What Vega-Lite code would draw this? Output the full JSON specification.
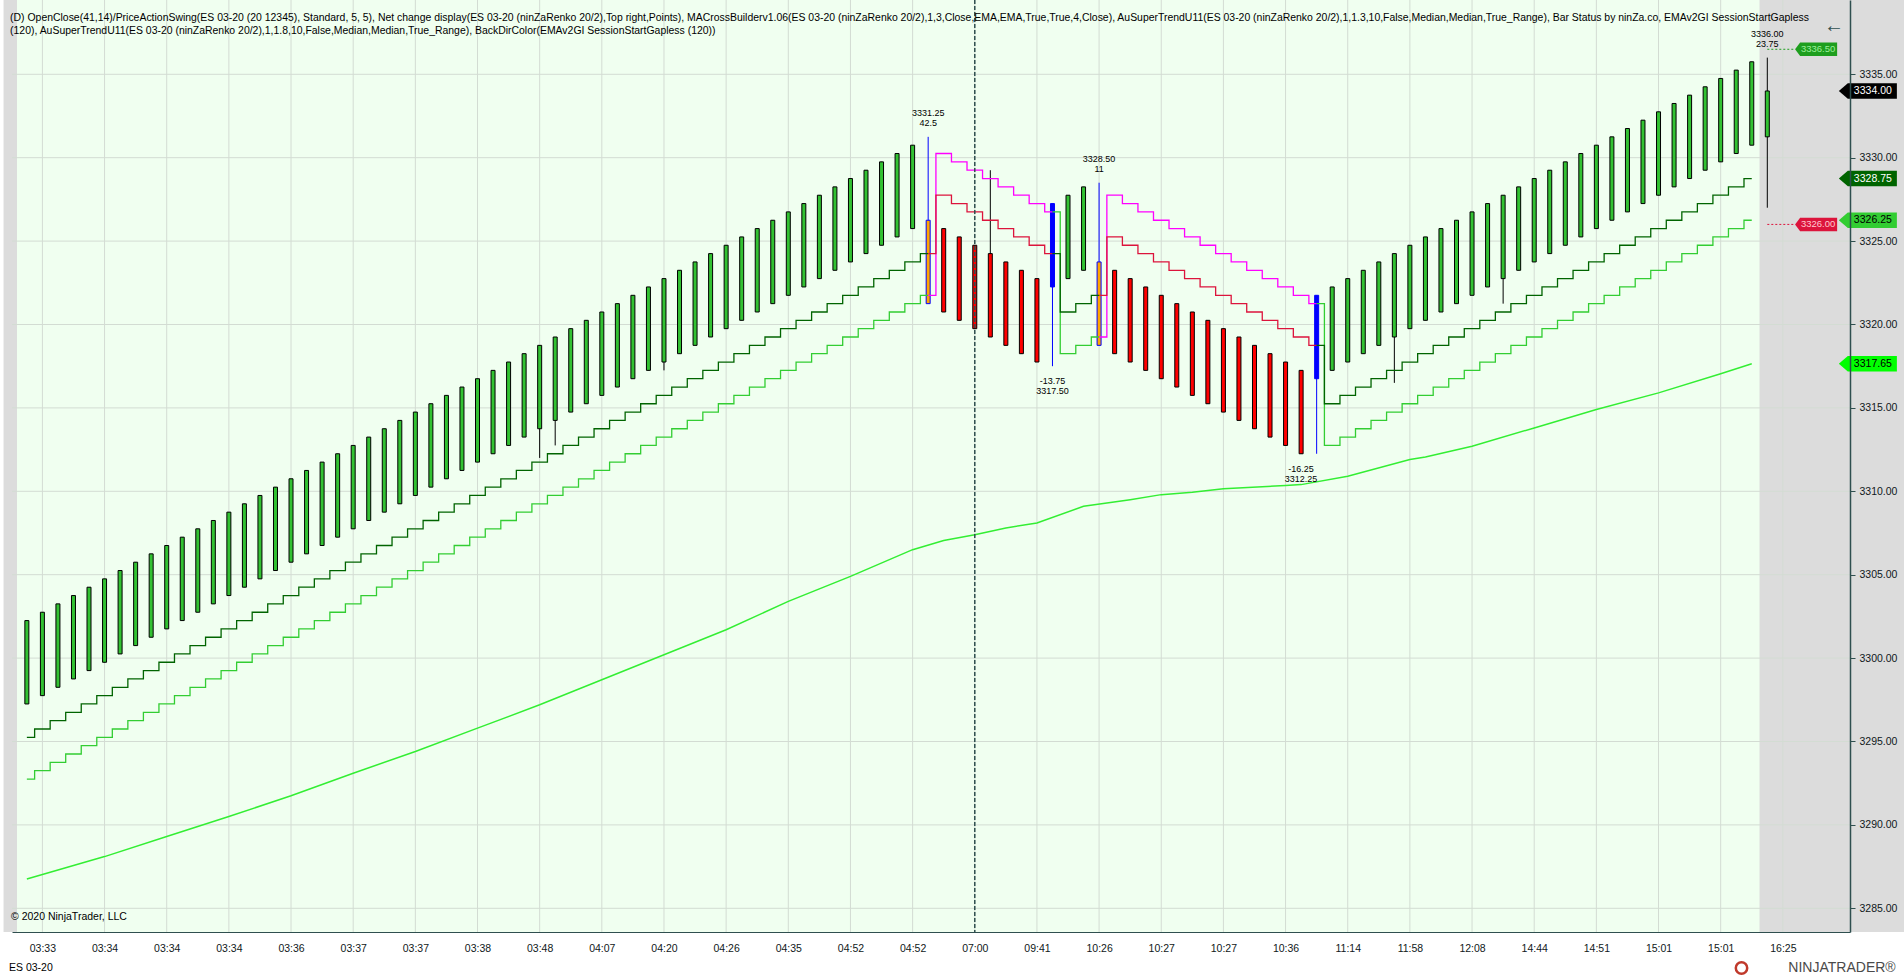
{
"$schema":"https://vega.github.io/schema/vega-lite/v6.json",
"width":1838,"height":932,
"autosize":{"type":"none"},
"padding":{"left":12,"top":0,"right":54,"bottom":46},
"background":"#FFFFFF",
"config":{"view":{"stroke":null},"font":"Liberation Sans"},
"resolve":{"scale":{"color":"independent","stroke":"independent"}},
"datasets":{
"bars":[
{"i":0,"o":3297.25,"c":3302.25,"h":3302.25,"l":3297.25,"s":"u","t1":3295.25,"t2":3292.75},
{"i":1,"o":3297.75,"c":3302.75,"h":3302.75,"l":3297.75,"s":"u","t1":3295.75,"t2":3293.25},
{"i":2,"o":3298.25,"c":3303.25,"h":3303.25,"l":3298.25,"s":"u","t1":3296.25,"t2":3293.75},
{"i":3,"o":3298.75,"c":3303.75,"h":3303.75,"l":3298.75,"s":"u","t1":3296.75,"t2":3294.25},
{"i":4,"o":3299.25,"c":3304.25,"h":3304.25,"l":3299.25,"s":"u","t1":3297.25,"t2":3294.75},
{"i":5,"o":3299.75,"c":3304.75,"h":3304.75,"l":3299.75,"s":"u","t1":3297.75,"t2":3295.25},
{"i":6,"o":3300.25,"c":3305.25,"h":3305.25,"l":3300.25,"s":"u","t1":3298.25,"t2":3295.75},
{"i":7,"o":3300.75,"c":3305.75,"h":3305.75,"l":3300.75,"s":"u","t1":3298.75,"t2":3296.25},
{"i":8,"o":3301.25,"c":3306.25,"h":3306.25,"l":3301.25,"s":"u","t1":3299.25,"t2":3296.75},
{"i":9,"o":3301.75,"c":3306.75,"h":3306.75,"l":3301.75,"s":"u","t1":3299.75,"t2":3297.25},
{"i":10,"o":3302.25,"c":3307.25,"h":3307.25,"l":3302.25,"s":"u","t1":3300.25,"t2":3297.75},
{"i":11,"o":3302.75,"c":3307.75,"h":3307.75,"l":3302.75,"s":"u","t1":3300.75,"t2":3298.25},
{"i":12,"o":3303.25,"c":3308.25,"h":3308.25,"l":3303.25,"s":"u","t1":3301.25,"t2":3298.75},
{"i":13,"o":3303.75,"c":3308.75,"h":3308.75,"l":3303.75,"s":"u","t1":3301.75,"t2":3299.25},
{"i":14,"o":3304.25,"c":3309.25,"h":3309.25,"l":3304.25,"s":"u","t1":3302.25,"t2":3299.75},
{"i":15,"o":3304.75,"c":3309.75,"h":3309.75,"l":3304.75,"s":"u","t1":3302.75,"t2":3300.25},
{"i":16,"o":3305.25,"c":3310.25,"h":3310.25,"l":3305.25,"s":"u","t1":3303.25,"t2":3300.75},
{"i":17,"o":3305.75,"c":3310.75,"h":3310.75,"l":3305.75,"s":"u","t1":3303.75,"t2":3301.25},
{"i":18,"o":3306.25,"c":3311.25,"h":3311.25,"l":3306.25,"s":"u","t1":3304.25,"t2":3301.75},
{"i":19,"o":3306.75,"c":3311.75,"h":3311.75,"l":3306.75,"s":"u","t1":3304.75,"t2":3302.25},
{"i":20,"o":3307.25,"c":3312.25,"h":3312.25,"l":3307.25,"s":"u","t1":3305.25,"t2":3302.75},
{"i":21,"o":3307.75,"c":3312.75,"h":3312.75,"l":3307.75,"s":"u","t1":3305.75,"t2":3303.25},
{"i":22,"o":3308.25,"c":3313.25,"h":3313.25,"l":3308.25,"s":"u","t1":3306.25,"t2":3303.75},
{"i":23,"o":3308.75,"c":3313.75,"h":3313.75,"l":3308.75,"s":"u","t1":3306.75,"t2":3304.25},
{"i":24,"o":3309.25,"c":3314.25,"h":3314.25,"l":3309.25,"s":"u","t1":3307.25,"t2":3304.75},
{"i":25,"o":3309.75,"c":3314.75,"h":3314.75,"l":3309.75,"s":"u","t1":3307.75,"t2":3305.25},
{"i":26,"o":3310.25,"c":3315.25,"h":3315.25,"l":3310.25,"s":"u","t1":3308.25,"t2":3305.75},
{"i":27,"o":3310.75,"c":3315.75,"h":3315.75,"l":3310.75,"s":"u","t1":3308.75,"t2":3306.25},
{"i":28,"o":3311.25,"c":3316.25,"h":3316.25,"l":3311.25,"s":"u","t1":3309.25,"t2":3306.75},
{"i":29,"o":3311.75,"c":3316.75,"h":3316.75,"l":3311.75,"s":"u","t1":3309.75,"t2":3307.25},
{"i":30,"o":3312.25,"c":3317.25,"h":3317.25,"l":3312.25,"s":"u","t1":3310.25,"t2":3307.75},
{"i":31,"o":3312.75,"c":3317.75,"h":3317.75,"l":3312.75,"s":"u","t1":3310.75,"t2":3308.25},
{"i":32,"o":3313.25,"c":3318.25,"h":3318.25,"l":3313.25,"s":"u","t1":3311.25,"t2":3308.75},
{"i":33,"o":3313.75,"c":3318.75,"h":3318.75,"l":3312.0,"s":"u","t1":3311.75,"t2":3309.25},
{"i":34,"o":3314.25,"c":3319.25,"h":3319.25,"l":3312.75,"s":"u","t1":3312.25,"t2":3309.75},
{"i":35,"o":3314.75,"c":3319.75,"h":3319.75,"l":3314.75,"s":"u","t1":3312.75,"t2":3310.25},
{"i":36,"o":3315.25,"c":3320.25,"h":3320.25,"l":3315.25,"s":"u","t1":3313.25,"t2":3310.75},
{"i":37,"o":3315.75,"c":3320.75,"h":3320.75,"l":3315.75,"s":"u","t1":3313.75,"t2":3311.25},
{"i":38,"o":3316.25,"c":3321.25,"h":3321.25,"l":3316.25,"s":"u","t1":3314.25,"t2":3311.75},
{"i":39,"o":3316.75,"c":3321.75,"h":3321.75,"l":3316.75,"s":"u","t1":3314.75,"t2":3312.25},
{"i":40,"o":3317.25,"c":3322.25,"h":3322.25,"l":3317.25,"s":"u","t1":3315.25,"t2":3312.75},
{"i":41,"o":3317.75,"c":3322.75,"h":3322.75,"l":3317.25,"s":"u","t1":3315.75,"t2":3313.25},
{"i":42,"o":3318.25,"c":3323.25,"h":3323.25,"l":3318.25,"s":"u","t1":3316.25,"t2":3313.75},
{"i":43,"o":3318.75,"c":3323.75,"h":3323.75,"l":3318.75,"s":"u","t1":3316.75,"t2":3314.25},
{"i":44,"o":3319.25,"c":3324.25,"h":3324.25,"l":3319.25,"s":"u","t1":3317.25,"t2":3314.75},
{"i":45,"o":3319.75,"c":3324.75,"h":3324.75,"l":3319.75,"s":"u","t1":3317.75,"t2":3315.25},
{"i":46,"o":3320.25,"c":3325.25,"h":3325.25,"l":3320.25,"s":"u","t1":3318.25,"t2":3315.75},
{"i":47,"o":3320.75,"c":3325.75,"h":3325.75,"l":3320.75,"s":"u","t1":3318.75,"t2":3316.25},
{"i":48,"o":3321.25,"c":3326.25,"h":3326.25,"l":3321.25,"s":"u","t1":3319.25,"t2":3316.75},
{"i":49,"o":3321.75,"c":3326.75,"h":3326.75,"l":3321.75,"s":"u","t1":3319.75,"t2":3317.25},
{"i":50,"o":3322.25,"c":3327.25,"h":3327.25,"l":3322.25,"s":"u","t1":3320.25,"t2":3317.75},
{"i":51,"o":3322.75,"c":3327.75,"h":3327.75,"l":3322.75,"s":"u","t1":3320.75,"t2":3318.25},
{"i":52,"o":3323.25,"c":3328.25,"h":3328.25,"l":3323.25,"s":"u","t1":3321.25,"t2":3318.75},
{"i":53,"o":3323.75,"c":3328.75,"h":3328.75,"l":3323.75,"s":"u","t1":3321.75,"t2":3319.25},
{"i":54,"o":3324.25,"c":3329.25,"h":3329.25,"l":3324.25,"s":"u","t1":3322.25,"t2":3319.75},
{"i":55,"o":3324.75,"c":3329.75,"h":3329.75,"l":3324.75,"s":"u","t1":3322.75,"t2":3320.25},
{"i":56,"o":3325.25,"c":3330.25,"h":3330.25,"l":3325.25,"s":"u","t1":3323.25,"t2":3320.75},
{"i":57,"o":3325.75,"c":3330.75,"h":3330.75,"l":3325.75,"s":"u","t1":3323.75,"t2":3321.25},
{"i":58,"o":3326.25,"c":3321.25,"h":3331.25,"l":3321.25,"s":"ro","t1":3324.25,"t2":3321.75},
{"i":59,"o":3325.75,"c":3320.75,"h":3325.75,"l":3320.75,"s":"d","t1":3327.75,"t2":3330.25},
{"i":60,"o":3325.25,"c":3320.25,"h":3325.25,"l":3320.25,"s":"d","t1":3327.25,"t2":3329.75},
{"i":61,"o":3324.75,"c":3319.75,"h":3324.75,"l":3319.75,"s":"d","t1":3326.75,"t2":3329.25},
{"i":62,"o":3324.25,"c":3319.25,"h":3329.25,"l":3319.25,"s":"d","t1":3326.25,"t2":3328.75},
{"i":63,"o":3323.75,"c":3318.75,"h":3323.75,"l":3318.75,"s":"d","t1":3325.75,"t2":3328.25},
{"i":64,"o":3323.25,"c":3318.25,"h":3323.25,"l":3318.25,"s":"d","t1":3325.25,"t2":3327.75},
{"i":65,"o":3322.75,"c":3317.75,"h":3322.75,"l":3317.75,"s":"d","t1":3324.75,"t2":3327.25},
{"i":66,"o":3322.25,"c":3327.25,"h":3327.25,"l":3317.5,"s":"rb","t1":3324.25,"t2":3326.75},
{"i":67,"o":3322.75,"c":3327.75,"h":3327.75,"l":3322.75,"s":"u","t1":3320.75,"t2":3318.25},
{"i":68,"o":3323.25,"c":3328.25,"h":3328.25,"l":3323.25,"s":"u","t1":3321.25,"t2":3318.75},
{"i":69,"o":3323.75,"c":3318.75,"h":3328.5,"l":3318.75,"s":"ro","t1":3321.75,"t2":3319.25},
{"i":70,"o":3323.25,"c":3318.25,"h":3323.25,"l":3318.25,"s":"d","t1":3325.25,"t2":3327.75},
{"i":71,"o":3322.75,"c":3317.75,"h":3322.75,"l":3317.75,"s":"d","t1":3324.75,"t2":3327.25},
{"i":72,"o":3322.25,"c":3317.25,"h":3322.25,"l":3317.25,"s":"d","t1":3324.25,"t2":3326.75},
{"i":73,"o":3321.75,"c":3316.75,"h":3321.75,"l":3316.75,"s":"d","t1":3323.75,"t2":3326.25},
{"i":74,"o":3321.25,"c":3316.25,"h":3321.25,"l":3316.25,"s":"d","t1":3323.25,"t2":3325.75},
{"i":75,"o":3320.75,"c":3315.75,"h":3320.75,"l":3315.75,"s":"d","t1":3322.75,"t2":3325.25},
{"i":76,"o":3320.25,"c":3315.25,"h":3320.25,"l":3315.25,"s":"d","t1":3322.25,"t2":3324.75},
{"i":77,"o":3319.75,"c":3314.75,"h":3319.75,"l":3314.75,"s":"d","t1":3321.75,"t2":3324.25},
{"i":78,"o":3319.25,"c":3314.25,"h":3319.25,"l":3314.25,"s":"d","t1":3321.25,"t2":3323.75},
{"i":79,"o":3318.75,"c":3313.75,"h":3318.75,"l":3313.75,"s":"d","t1":3320.75,"t2":3323.25},
{"i":80,"o":3318.25,"c":3313.25,"h":3318.25,"l":3313.25,"s":"d","t1":3320.25,"t2":3322.75},
{"i":81,"o":3317.75,"c":3312.75,"h":3317.75,"l":3312.75,"s":"d","t1":3319.75,"t2":3322.25},
{"i":82,"o":3317.25,"c":3312.25,"h":3317.25,"l":3312.25,"s":"d","t1":3319.25,"t2":3321.75},
{"i":83,"o":3316.75,"c":3321.75,"h":3321.75,"l":3312.25,"s":"rb","t1":3318.75,"t2":3321.25},
{"i":84,"o":3317.25,"c":3322.25,"h":3322.25,"l":3317.25,"s":"u","t1":3315.25,"t2":3312.75},
{"i":85,"o":3317.75,"c":3322.75,"h":3322.75,"l":3317.75,"s":"u","t1":3315.75,"t2":3313.25},
{"i":86,"o":3318.25,"c":3323.25,"h":3323.25,"l":3318.25,"s":"u","t1":3316.25,"t2":3313.75},
{"i":87,"o":3318.75,"c":3323.75,"h":3323.75,"l":3318.75,"s":"u","t1":3316.75,"t2":3314.25},
{"i":88,"o":3319.25,"c":3324.25,"h":3324.25,"l":3316.5,"s":"u","t1":3317.25,"t2":3314.75},
{"i":89,"o":3319.75,"c":3324.75,"h":3324.75,"l":3319.75,"s":"u","t1":3317.75,"t2":3315.25},
{"i":90,"o":3320.25,"c":3325.25,"h":3325.25,"l":3320.25,"s":"u","t1":3318.25,"t2":3315.75},
{"i":91,"o":3320.75,"c":3325.75,"h":3325.75,"l":3320.75,"s":"u","t1":3318.75,"t2":3316.25},
{"i":92,"o":3321.25,"c":3326.25,"h":3326.25,"l":3321.25,"s":"u","t1":3319.25,"t2":3316.75},
{"i":93,"o":3321.75,"c":3326.75,"h":3326.75,"l":3321.75,"s":"u","t1":3319.75,"t2":3317.25},
{"i":94,"o":3322.25,"c":3327.25,"h":3327.25,"l":3322.25,"s":"u","t1":3320.25,"t2":3317.75},
{"i":95,"o":3322.75,"c":3327.75,"h":3327.75,"l":3321.25,"s":"u","t1":3320.75,"t2":3318.25},
{"i":96,"o":3323.25,"c":3328.25,"h":3328.25,"l":3323.25,"s":"u","t1":3321.25,"t2":3318.75},
{"i":97,"o":3323.75,"c":3328.75,"h":3328.75,"l":3323.75,"s":"u","t1":3321.75,"t2":3319.25},
{"i":98,"o":3324.25,"c":3329.25,"h":3329.25,"l":3324.25,"s":"u","t1":3322.25,"t2":3319.75},
{"i":99,"o":3324.75,"c":3329.75,"h":3329.75,"l":3324.75,"s":"u","t1":3322.75,"t2":3320.25},
{"i":100,"o":3325.25,"c":3330.25,"h":3330.25,"l":3325.25,"s":"u","t1":3323.25,"t2":3320.75},
{"i":101,"o":3325.75,"c":3330.75,"h":3330.75,"l":3325.75,"s":"u","t1":3323.75,"t2":3321.25},
{"i":102,"o":3326.25,"c":3331.25,"h":3331.25,"l":3326.25,"s":"u","t1":3324.25,"t2":3321.75},
{"i":103,"o":3326.75,"c":3331.75,"h":3331.75,"l":3326.75,"s":"u","t1":3324.75,"t2":3322.25},
{"i":104,"o":3327.25,"c":3332.25,"h":3332.25,"l":3327.25,"s":"u","t1":3325.25,"t2":3322.75},
{"i":105,"o":3327.75,"c":3332.75,"h":3332.75,"l":3327.75,"s":"u","t1":3325.75,"t2":3323.25},
{"i":106,"o":3328.25,"c":3333.25,"h":3333.25,"l":3328.25,"s":"u","t1":3326.25,"t2":3323.75},
{"i":107,"o":3328.75,"c":3333.75,"h":3333.75,"l":3328.75,"s":"u","t1":3326.75,"t2":3324.25},
{"i":108,"o":3329.25,"c":3334.25,"h":3334.25,"l":3329.25,"s":"u","t1":3327.25,"t2":3324.75},
{"i":109,"o":3329.75,"c":3334.75,"h":3334.75,"l":3329.75,"s":"u","t1":3327.75,"t2":3325.25},
{"i":110,"o":3330.25,"c":3335.25,"h":3335.25,"l":3330.25,"s":"u","t1":3328.25,"t2":3325.75},
{"i":111,"o":3330.75,"c":3335.75,"h":3335.75,"l":3330.75,"s":"u","t1":3328.75,"t2":3326.25},
{"i":112,"o":3331.25,"c":3334.0,"h":3336.0,"l":3327.0,"s":"u"}
],
"ema":[
{"i":0,"v":3286.76},{"i":5,"v":3288.1},{"i":9,"v":3289.3},{"i":13,"v":3290.5},{"i":17,"v":3291.75},{"i":21,"v":3293.1},{"i":25,"v":3294.4},{"i":29,"v":3295.8},{"i":33,"v":3297.2},{"i":37,"v":3298.7},{"i":41,"v":3300.2},{"i":45,"v":3301.7},{"i":49,"v":3303.4},{"i":53,"v":3304.9},{"i":57,"v":3306.5},{"i":59,"v":3307.05},{"i":61,"v":3307.4},{"i":63,"v":3307.8},{"i":65,"v":3308.1},{"i":68,"v":3309.1},{"i":71,"v":3309.5},{"i":73,"v":3309.8},{"i":75,"v":3309.95},{"i":77,"v":3310.15},{"i":81,"v":3310.35},{"i":82,"v":3310.4},{"i":85,"v":3310.9},{"i":89,"v":3311.9},{"i":90,"v":3312.05},{"i":93,"v":3312.7},{"i":97,"v":3313.8},{"i":101,"v":3314.9},{"i":105,"v":3315.9},{"i":109,"v":3317.05},{"i":111,"v":3317.65}
],
"swing":[
{"i":58,"p":3331.25,"k":"hi","t":["3331.25","42.5"]},
{"i":69,"p":3328.5,"k":"hi","t":["3328.50","11"]},
{"i":112,"p":3336.0,"k":"hi","t":["3336.00","23.75"]},
{"i":66,"p":3317.5,"k":"lo","t":["-13.75","3317.50"]},
{"i":82,"p":3312.25,"k":"lo","t":["-16.25","3312.25"]}
],
"mk":[
{"p":3334.0,"t":"3334.00","k":"close"},
{"p":3328.75,"t":"3328.75","k":"st1"},
{"p":3326.25,"t":"3326.25","k":"st2"},
{"p":3317.65,"t":"3317.65","k":"ema"}
],
"pj":[
{"p":3336.5,"t":"3336.50","k":"up"},
{"p":3326.0,"t":"3326.00","k":"dn"}
],
"gx":[{"v":1},{"v":5},{"v":9},{"v":13},{"v":17},{"v":21},{"v":25},{"v":29},{"v":33},{"v":37},{"v":41},{"v":45},{"v":49},{"v":53},{"v":57},{"v":61},{"v":65},{"v":69},{"v":73},{"v":77},{"v":81},{"v":85},{"v":89},{"v":93},{"v":97},{"v":101},{"v":105},{"v":109},{"v":113}],
"gy":[{"v":3285},{"v":3290},{"v":3295},{"v":3300},{"v":3305},{"v":3310},{"v":3315},{"v":3320},{"v":3325},{"v":3330},{"v":3335}],
"one":[{}]
},
"layer":[
{"data":{"name":"one"},"mark":{"type":"rect","color":"#DCDCDC"},
 "encoding":{"x":{"datum":-1.5,"scale":{"domain":[-0.634,117.0],"nice":false,"zero":false}},"x2":{"datum":121}}},
{"data":{"name":"one"},"mark":{"type":"rect","color":"#F0FFF0"},
 "encoding":{"x":{"datum":-0.634,"scale":{"domain":[-0.634,117.0],"nice":false,"zero":false}},"x2":{"datum":111.5}}},
{"data":{"name":"gx"},"mark":{"type":"rule","color":"#D3DCD3","strokeWidth":1},
 "encoding":{"x":{"field":"v","type":"quantitative","scale":{"domain":[-0.634,117.0],"nice":false,"zero":false}}}},
{"data":{"name":"gy"},"mark":{"type":"rule","color":"#D3DCD3","strokeWidth":1},
 "encoding":{"y":{"field":"v","type":"quantitative","scale":{"domain":[3283.579,3339.454],"nice":false,"zero":false}}}},
{"data":{"name":"bars"},"mark":{"type":"rule","strokeWidth":1},
 "encoding":{"x":{"field":"i","type":"quantitative","scale":{"domain":[-0.634,117.0],"nice":false,"zero":false}},
  "y":{"field":"l","type":"quantitative","scale":{"domain":[3283.579,3339.454],"nice":false,"zero":false}},"y2":{"field":"h"},
  "stroke":{"field":"s","type":"nominal","scale":{"domain":["u","d","ro","rb"],"range":["#000000","#000000","#0000FF","#0000FF"]},"legend":null}}},
{"data":{"name":"bars"},"mark":{"type":"bar","width":4,"strokeWidth":1,"opacity":1},
 "encoding":{"x":{"field":"i","type":"quantitative","scale":{"domain":[-0.634,117.0],"nice":false,"zero":false},
   "axis":{"title":null,"orient":"bottom","zindex":1,"values":[1,5,9,13,17,21,25,29,33,37,41,45,49,53,57,61,65,69,73,77,81,85,89,93,97,101,105,109,113],
   "labelExpr":"datum.value==1?'03:33':datum.value<=13?'03:34':datum.value==17?'03:36':datum.value<=25?'03:37':datum.value==29?'03:38':datum.value==33?'03:48':datum.value==37?'04:07':datum.value==41?'04:20':datum.value==45?'04:26':datum.value==49?'04:35':datum.value<=57?'04:52':datum.value==61?'07:00':datum.value==65?'09:41':datum.value==69?'10:26':datum.value<=77?'10:27':datum.value==81?'10:36':datum.value==85?'11:14':datum.value==89?'11:58':datum.value==93?'12:08':datum.value==97?'14:44':datum.value==101?'14:51':datum.value<=109?'15:01':'16:25'",
   "grid":false,"ticks":false,"labelPadding":11,"labelFlush":false,"labelOverlap":false,"labelFont":"Liberation Sans","labelFontSize":10.5,"labelColor":"#101820","domainColor":"#2F4F4F","domainWidth":1}},
  "y":{"field":"o","type":"quantitative","scale":{"domain":[3283.579,3339.454],"nice":false,"zero":false},
   "axis":{"title":null,"orient":"right","zindex":1,"values":[3285,3290,3295,3300,3305,3310,3315,3320,3325,3330,3335],"format":".2f",
   "grid":false,"ticks":true,"tickSize":5,"tickColor":"#2F4F4F","labelPadding":4,"labelOverlap":false,"labelFlush":false,"labelFont":"Liberation Sans","labelFontSize":10.5,"labelColor":"#101820","domainColor":"#2F4F4F","domainWidth":1.5}},
  "y2":{"field":"c"},
  "color":{"field":"s","type":"nominal","scale":{"domain":["u","d","ro","rb"],"range":["#32C232","#FF0000","#FFA500","#0000FF"]},"legend":null},
  "stroke":{"field":"s","type":"nominal","scale":{"domain":["u","d","ro","rb"],"range":["#000000","#000000","#0000FF","#0000FF"]},"legend":null}}},
{"data":{"name":"ema"},"mark":{"type":"line","color":"#33EE33","strokeWidth":1.5},
 "encoding":{"x":{"field":"i","type":"quantitative","scale":{"domain":[-0.634,117.0],"nice":false,"zero":false}},
  "y":{"field":"v","type":"quantitative","scale":{"domain":[3283.579,3339.454],"nice":false,"zero":false}}}},
{"data":{"name":"bars"},"transform":[{"filter":"datum.i<=58"}],"mark":{"type":"line","interpolate":"step","color":"#32CD32","strokeWidth":1.3},
 "encoding":{"x":{"field":"i","type":"quantitative","scale":{"domain":[-0.634,117.0],"nice":false,"zero":false}},"y":{"field":"t2","type":"quantitative","scale":{"domain":[3283.579,3339.454],"nice":false,"zero":false}}}},
{"data":{"name":"bars"},"transform":[{"filter":"datum.i>=58 && datum.i<=66"}],"mark":{"type":"line","interpolate":"step","color":"#FF00FF","strokeWidth":1.3},
 "encoding":{"x":{"field":"i","type":"quantitative","scale":{"domain":[-0.634,117.0],"nice":false,"zero":false}},"y":{"field":"t2","type":"quantitative","scale":{"domain":[3283.579,3339.454],"nice":false,"zero":false}}}},
{"data":{"name":"bars"},"transform":[{"filter":"datum.i>=66 && datum.i<=69"}],"mark":{"type":"line","interpolate":"step","color":"#32CD32","strokeWidth":1.3},
 "encoding":{"x":{"field":"i","type":"quantitative","scale":{"domain":[-0.634,117.0],"nice":false,"zero":false}},"y":{"field":"t2","type":"quantitative","scale":{"domain":[3283.579,3339.454],"nice":false,"zero":false}}}},
{"data":{"name":"bars"},"transform":[{"filter":"datum.i>=69 && datum.i<=83"}],"mark":{"type":"line","interpolate":"step","color":"#FF00FF","strokeWidth":1.3},
 "encoding":{"x":{"field":"i","type":"quantitative","scale":{"domain":[-0.634,117.0],"nice":false,"zero":false}},"y":{"field":"t2","type":"quantitative","scale":{"domain":[3283.579,3339.454],"nice":false,"zero":false}}}},
{"data":{"name":"bars"},"transform":[{"filter":"datum.i>=83 && datum.i<=111"}],"mark":{"type":"line","interpolate":"step","color":"#32CD32","strokeWidth":1.3},
 "encoding":{"x":{"field":"i","type":"quantitative","scale":{"domain":[-0.634,117.0],"nice":false,"zero":false}},"y":{"field":"t2","type":"quantitative","scale":{"domain":[3283.579,3339.454],"nice":false,"zero":false}}}},
{"data":{"name":"bars"},"transform":[{"filter":"datum.i<=58"}],"mark":{"type":"line","interpolate":"step","color":"#006400","strokeWidth":1.3},
 "encoding":{"x":{"field":"i","type":"quantitative","scale":{"domain":[-0.634,117.0],"nice":false,"zero":false}},"y":{"field":"t1","type":"quantitative","scale":{"domain":[3283.579,3339.454],"nice":false,"zero":false}}}},
{"data":{"name":"bars"},"transform":[{"filter":"datum.i>=58 && datum.i<=66"}],"mark":{"type":"line","interpolate":"step","color":"#DC143C","strokeWidth":1.3},
 "encoding":{"x":{"field":"i","type":"quantitative","scale":{"domain":[-0.634,117.0],"nice":false,"zero":false}},"y":{"field":"t1","type":"quantitative","scale":{"domain":[3283.579,3339.454],"nice":false,"zero":false}}}},
{"data":{"name":"bars"},"transform":[{"filter":"datum.i>=66 && datum.i<=69"}],"mark":{"type":"line","interpolate":"step","color":"#006400","strokeWidth":1.3},
 "encoding":{"x":{"field":"i","type":"quantitative","scale":{"domain":[-0.634,117.0],"nice":false,"zero":false}},"y":{"field":"t1","type":"quantitative","scale":{"domain":[3283.579,3339.454],"nice":false,"zero":false}}}},
{"data":{"name":"bars"},"transform":[{"filter":"datum.i>=69 && datum.i<=83"}],"mark":{"type":"line","interpolate":"step","color":"#DC143C","strokeWidth":1.3},
 "encoding":{"x":{"field":"i","type":"quantitative","scale":{"domain":[-0.634,117.0],"nice":false,"zero":false}},"y":{"field":"t1","type":"quantitative","scale":{"domain":[3283.579,3339.454],"nice":false,"zero":false}}}},
{"data":{"name":"bars"},"transform":[{"filter":"datum.i>=83 && datum.i<=111"}],"mark":{"type":"line","interpolate":"step","color":"#006400","strokeWidth":1.3},
 "encoding":{"x":{"field":"i","type":"quantitative","scale":{"domain":[-0.634,117.0],"nice":false,"zero":false}},"y":{"field":"t1","type":"quantitative","scale":{"domain":[3283.579,3339.454],"nice":false,"zero":false}}}},
{"data":{"name":"one"},"mark":{"type":"rule","color":"#2F4F4F","strokeWidth":1.5,"strokeDash":[4,2]},
 "encoding":{"x":{"datum":61,"scale":{"domain":[-0.634,117.0],"nice":false,"zero":false}}}},
{"data":{"name":"pj"},"mark":{"type":"rule","strokeWidth":1,"strokeDash":[2,2]},
 "encoding":{"x":{"datum":112,"scale":{"domain":[-0.634,117.0],"nice":false,"zero":false}},"x2":{"datum":113.8},
  "y":{"field":"p","type":"quantitative","scale":{"domain":[3283.579,3339.454],"nice":false,"zero":false}},
  "stroke":{"field":"k","type":"nominal","scale":{"domain":["up","dn"],"range":["#1E9E1E","#DC143C"]},"legend":null}}},
{"data":{"name":"pj"},"mark":{"type":"point","filled":true,"opacity":1,"size":1764,"shape":"M-1,0L-0.76,-0.32L1,-0.32L1,0.32L-0.76,0.32Z"},
 "encoding":{"x":{"datum":115.14,"scale":{"domain":[-0.634,117.0],"nice":false,"zero":false}},
  "y":{"field":"p","type":"quantitative","scale":{"domain":[3283.579,3339.454],"nice":false,"zero":false}},
  "color":{"field":"k","type":"nominal","scale":{"domain":["up","dn"],"range":["#1E9E1E","#DC143C"]},"legend":null}}},
{"data":{"name":"pj"},"mark":{"type":"text","fontSize":9.5,"align":"center","baseline":"middle"},
 "encoding":{"x":{"datum":115.27,"scale":{"domain":[-0.634,117.0],"nice":false,"zero":false}},
  "y":{"field":"p","type":"quantitative","scale":{"domain":[3283.579,3339.454],"nice":false,"zero":false}},
  "text":{"field":"t"},
  "color":{"condition":{"test":"datum.k=='up'","value":"#9CF09C"},"value":"#FFC8D0"}}},
{"data":{"name":"mk"},"mark":{"type":"point","filled":true,"opacity":1,"size":3600,"shape":"M-0.967,0L-0.667,-0.257L0.967,-0.257L0.967,0.257L-0.667,0.257Z"},
 "encoding":{"x":{"datum":118.47,"scale":{"domain":[-0.634,117.0],"nice":false,"zero":false}},
  "y":{"field":"p","type":"quantitative","scale":{"domain":[3283.579,3339.454],"nice":false,"zero":false}},
  "color":{"field":"k","type":"nominal","scale":{"domain":["close","st1","st2","ema"],"range":["#000000","#006400","#32CD32","#00FF00"]},"legend":null}}},
{"data":{"name":"mk"},"mark":{"type":"text","fontSize":10.5,"align":"left","baseline":"middle"},
 "encoding":{"x":{"datum":117.57,"scale":{"domain":[-0.634,117.0],"nice":false,"zero":false}},
  "y":{"field":"p","type":"quantitative","scale":{"domain":[3283.579,3339.454],"nice":false,"zero":false}},
  "text":{"field":"t"},
  "color":{"condition":{"test":"datum.k=='close' || datum.k=='st1'","value":"#FFFFFF"},"value":"#000000"}}},
{"data":{"name":"swing"},"transform":[{"filter":"datum.k=='hi'"}],"mark":{"type":"text","fontSize":9,"align":"center","baseline":"middle","dy":-24,"lineHeight":10,"color":"#000000"},
 "encoding":{"x":{"field":"i","type":"quantitative","scale":{"domain":[-0.634,117.0],"nice":false,"zero":false}},
  "y":{"field":"p","type":"quantitative","scale":{"domain":[3283.579,3339.454],"nice":false,"zero":false}},"text":{"field":"t"}}},
{"data":{"name":"swing"},"transform":[{"filter":"datum.k=='lo'"}],"mark":{"type":"text","fontSize":9,"align":"center","baseline":"middle","dy":15,"lineHeight":10,"color":"#000000"},
 "encoding":{"x":{"field":"i","type":"quantitative","scale":{"domain":[-0.634,117.0],"nice":false,"zero":false}},
  "y":{"field":"p","type":"quantitative","scale":{"domain":[3283.579,3339.454],"nice":false,"zero":false}},"text":{"field":"t"}}},
{"data":{"name":"one"},"mark":{"type":"text","fontSize":10.45,"align":"left","baseline":"middle","lineHeight":12.6,"color":"#000000",
  "text":["(D) OpenClose(41,14)/PriceActionSwing(ES 03-20 (20 12345), Standard, 5, 5), Net change display(ES 03-20 (ninZaRenko 20/2),Top right,Points), MACrossBuilderv1.06(ES 03-20 (ninZaRenko 20/2),1,3,Close,EMA,EMA,True,True,4,Close), AuSuperTrendU11(ES 03-20 (ninZaRenko 20/2),1,1.3,10,False,Median,Median,True_Range), Bar Status by ninZa.co, EMAv2GI SessionStartGapless","(120), AuSuperTrendU11(ES 03-20 (ninZaRenko 20/2),1,1.8,10,False,Median,Median,True_Range), BackDirColor(EMAv2GI SessionStartGapless (120))"]},
 "encoding":{"x":{"datum":-1.08,"scale":{"domain":[-0.634,117.0],"nice":false,"zero":false}},
  "y":{"datum":3338.375,"scale":{"domain":[3283.579,3339.454],"nice":false,"zero":false}}}},
{"data":{"name":"one"},"mark":{"type":"text","fontSize":10.5,"align":"left","baseline":"middle","color":"#000000","text":"© 2020 NinjaTrader, LLC"},
 "encoding":{"x":{"datum":-1.02,"scale":{"domain":[-0.634,117.0],"nice":false,"zero":false}},
  "y":{"datum":3284.48,"scale":{"domain":[3283.579,3339.454],"nice":false,"zero":false}}}},
{"data":{"name":"one"},"mark":{"type":"text","fontSize":10.5,"align":"left","baseline":"middle","color":"#000000","text":"ES 03-20"},
 "encoding":{"x":{"datum":-1.15,"scale":{"domain":[-0.634,117.0],"nice":false,"zero":false}},
  "y":{"datum":3281.42,"scale":{"domain":[3283.579,3339.454],"nice":false,"zero":false}}}},
{"data":{"name":"one"},"mark":{"type":"text","fontSize":14,"align":"right","baseline":"middle","color":"#4A4A4A","text":"NINJATRADER®"},
 "encoding":{"x":{"datum":120.26,"scale":{"domain":[-0.634,117.0],"nice":false,"zero":false}},
  "y":{"datum":3281.42,"scale":{"domain":[3283.579,3339.454],"nice":false,"zero":false}}}},
{"data":{"name":"one"},"mark":{"type":"point","shape":"circle","size":130,"filled":false,"opacity":1,"stroke":"#C0392B","strokeWidth":2.5},
 "encoding":{"x":{"datum":110.34,"scale":{"domain":[-0.634,117.0],"nice":false,"zero":false}},
  "y":{"datum":3281.42,"scale":{"domain":[3283.579,3339.454],"nice":false,"zero":false}}}},
{"data":{"name":"one"},"mark":{"type":"text","fontSize":20,"align":"center","baseline":"middle","color":"#2F4F4F","text":"←"},
 "encoding":{"x":{"datum":116.3,"scale":{"domain":[-0.634,117.0],"nice":false,"zero":false}},
  "y":{"datum":3337.9,"scale":{"domain":[3283.579,3339.454],"nice":false,"zero":false}}}}
]
}
